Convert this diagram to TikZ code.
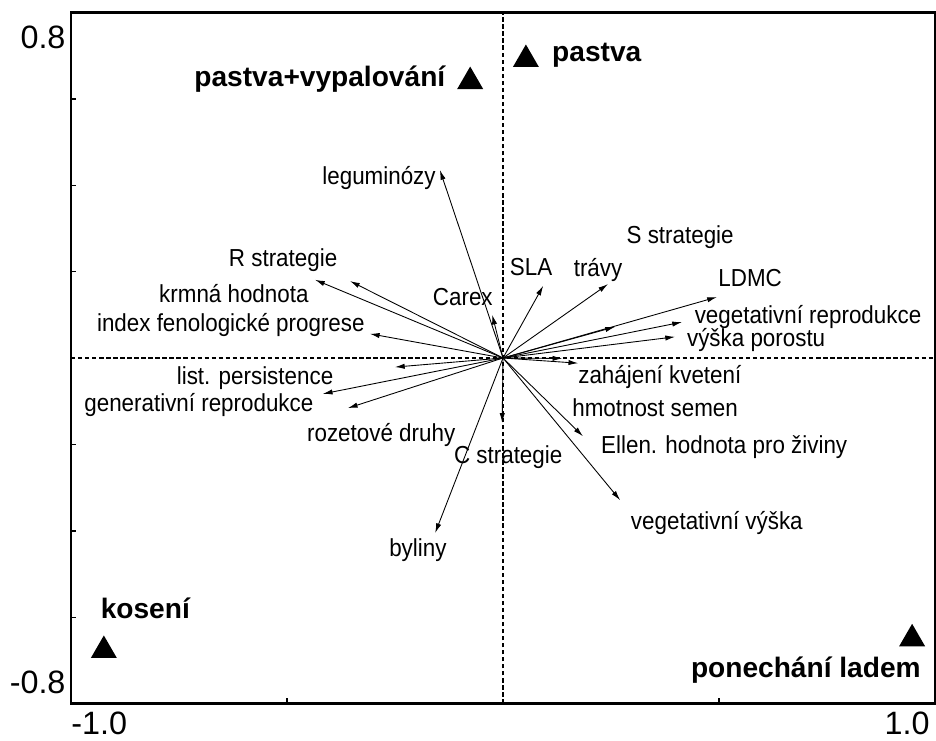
\documentclass[tikz,border=0pt]{standalone}
\usepackage{fontspec}
\setmainfont{Liberation Sans}
\newfontfamily\narrowfont[FakeStretch=0.91]{Liberation Sans}
\usepackage{tikz}
\usetikzlibrary{arrows.meta}
\usetikzlibrary{shapes.geometric}
\tikzstyle{every node}=[inner sep=0pt]
\tikzstyle{var}=[font=\narrowfont\fontsize{14}{16}\selectfont]
\tikzstyle{site}=[font=\bfseries\fontsize{16}{18}\selectfont]
\tikzstyle{sitemark}=[regular polygon, regular polygon sides=3, fill=black, minimum size=0.6cm]
\tikzstyle{ticklabel}=[font=\fontsize{18.4}{21}\selectfont]
\tikzstyle{vec}=[line width=0.5pt]
\tikzstyle{axisdash}=[line width=0.9pt, dash pattern=on 2.5pt off 1.5pt]

\begin{document}
\begin{tikzpicture}[x=8.64cm, y=8.64cm, >={Latex[length=5.5pt,width=3pt]}]
        \useasboundingbox (-1.1644,-0.8843) rectangle (1.0023,0.8287);
        \draw [axisdash] (0,-0.8) -- (0,0.8);
        \draw [axisdash] (-1,0) -- (1,0);
        \draw [line width=1.3pt] (-1,-0.8) rectangle (1,0.8);
        \draw [line width=0.8pt] (-1,0.6) -- (-0.988,0.6) (-1,0.4) -- (-0.988,0.4)
            (-1,0.2) -- (-0.988,0.2) (-1,-0.2) -- (-0.988,-0.2)
            (-1,-0.4) -- (-0.988,-0.4) (-1,-0.6) -- (-0.988,-0.6)
            (-0.5,-0.8) -- (-0.5,-0.788) (0.5,-0.8) -- (0.5,-0.788);
        \node [ticklabel, anchor=east] (ytop) at (-1.012,0.743) {0.8};
        \node [ticklabel, anchor=east] (ybot) at (-1.012,-0.75) {-0.8};
        \node [ticklabel, anchor=west] (xleft) at (-1.0,-0.846) {-1.0};
        \node [ticklabel, anchor=east] (xright) at (0.988,-0.846) {1.0};

        \coordinate (O) at (0, 0);
        \coordinate (leg) at (-0.146, 0.435);
        \coordinate (rstr) at (-0.354, 0.178);
        \coordinate (krm) at (-0.435, 0.181);
        \coordinate (ifp) at (-0.308, 0.056);
        \coordinate (car) at (-0.025, 0.100);
        \coordinate (sla) at (0.093, 0.167);
        \coordinate (trav) at (0.243, 0.171);
        \coordinate (sstr) at (0.259, 0.072);
        \coordinate (ldmc) at (0.495, 0.141);
        \coordinate (vrep) at (0.414, 0.083);
        \coordinate (vpor) at (0.398, 0.049);
        \coordinate (zak) at (0.137, -0.001);
        \coordinate (hms) at (0.174, -0.012);
        \coordinate (ell) at (0.185, -0.181);
        \coordinate (vvys) at (0.271, -0.329);
        \coordinate (cstr) at (-0.002, -0.150);
        \coordinate (byl) at (-0.157, -0.405);
        \coordinate (roz) at (-0.359, -0.116);
        \coordinate (gen) at (-0.417, -0.083);
        \coordinate (lst) at (-0.250, -0.021);

        \draw [vec, ->] (O) -- (leg);
        \draw [vec, ->] (O) -- (rstr);
        \draw [vec, ->] (O) -- (krm);
        \draw [vec, ->] (O) -- (ifp);
        \draw [vec, ->] (O) -- (car);
        \draw [vec, ->] (O) -- (sla);
        \draw [vec, ->] (O) -- (trav);
        \draw [vec, ->] (O) -- (sstr);
        \draw [vec, ->] (O) -- (ldmc);
        \draw [vec, ->] (O) -- (vrep);
        \draw [vec, ->] (O) -- (vpor);
        \draw [vec, ->] (O) -- (zak);
        \draw [vec, ->] (O) -- (hms);
        \draw [vec, ->] (O) -- (ell);
        \draw [vec, ->] (O) -- (vvys);
        \draw [vec, ->] (O) -- (cstr);
        \draw [vec, ->] (O) -- (byl);
        \draw [vec, ->] (O) -- (roz);
        \draw [vec, ->] (O) -- (gen);
        \draw [vec, ->] (O) -- (lst);

        \node [var] (legl) at (-0.287, 0.417) {leguminózy};
        \node [var] (rstrl) at (-0.509, 0.227) {R strategie};
        \node [var] (krml) at (-0.623, 0.150) {krmná hodnota};
        \node [var] (ifpl) at (-0.630, 0.076) {index fenologické progrese};
        \node [var] (carl) at (-0.093, 0.141) {Carex};
        \node [var] (slal) at (0.065, 0.211) {SLA};
        \node [var] (travl) at (0.220, 0.204) {trávy};
        \node [var] (sstrl) at (0.410, 0.280) {S strategie};
        \node [var] (ldmcl) at (0.572, 0.185) {LDMC};
        \node [var] (vrepl) at (0.706, 0.095) {vegetativní reprodukce};
        \node [var] (vporl) at (0.586, 0.042) {výška porostu};
        \node [var] (zakl) at (0.363, -0.044) {zahájení kvetení};
        \node [var] (hmsl) at (0.352, -0.116) {hmotnost semen};
        \node [var] (elll) at (0.512, -0.206) {Ellen. hodnota pro živiny};
        \node [var] (vvysl) at (0.495, -0.382) {vegetativní výška};
        \node [var] (cstrl) at (0.012, -0.229) {C strategie};
        \node [var] (rozl) at (-0.282, -0.178) {rozetové druhy};
        \node [var] (byll) at (-0.197, -0.444) {byliny};
        \node [var] (lstl) at (-0.574, -0.046) {list. persistence};
        \node [var] (genl) at (-0.704, -0.109) {generativní reprodukce};

        \node [sitemark] (pvm) at (-0.076, 0.640) {};
        \node [site] (pvl) at (-0.424, 0.646) {pastva+vypalování};
        \node [sitemark] (pam) at (0.053, 0.691) {};
        \node [site] (pal) at (0.217, 0.701) {pastva};
        \node [sitemark] (kom) at (-0.924, -0.677) {};
        \node [site] (kol) at (-0.828, -0.579) {kosení};
        \node [sitemark] (plm) at (0.947, -0.650) {};
        \node [site] (pll) at (0.701, -0.722) {ponechání ladem};
    \end{tikzpicture}
\end{document}
